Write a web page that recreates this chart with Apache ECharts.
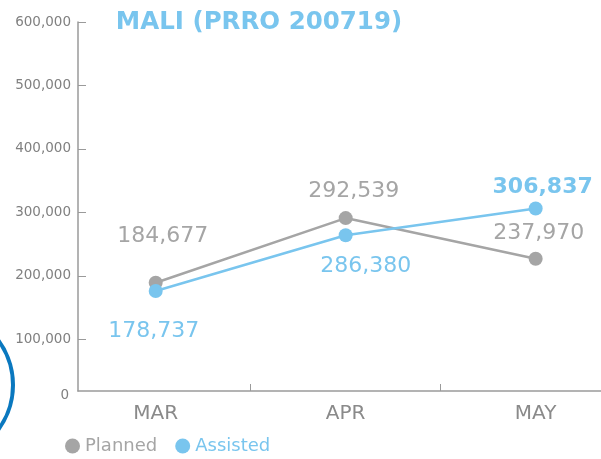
<!DOCTYPE html>
<html>
<head>
<meta charset="utf-8">
<script src="https://cdn.jsdelivr.net/npm/echarts@6/dist/echarts.min.js"></script>
<style>
  html, body { margin: 0; padding: 0; background: #fff; }
  #chart { width: 601px; height: 459px; }
</style>
</head>
<body>
<div id="chart"></div>
<script>
const months = ['MAR', 'APR', 'MAY'];
const yTicks = [100000, 200000, 300000, 400000, 500000, 600000];
// where the markers sit in the picture
const planned = [189000, 291000, 227000];
const assisted = [176000, 264000, 306000];
// figures printed next to the markers
const plannedTotals = [184677, 292539, 237970];
const assistedTotals = [178737, 286380, 306837];

const GRAY = '#a5a5a5';
const BLUE = '#79c5ee';
const AXIS = '#9a9a9a';
const FONT = 'DejaVu Sans';

const plannedOffsets = [[7, -47], [8, -27], [3, -25]];
const assistedOffsets = [[-2, 40], [20, 31], [7, -21]];

function fmt(v) {
    return v.toLocaleString('en-US');
}

function buildSeriesData(values, totals, offsets, color, boldIdx) {
    return values.map((v, i) => ({
        value: [i, v],
        label: {
            show: true,
            position: 'inside',
            offset: offsets[i],
            formatter: fmt(totals[i]),
            color: color,
            fontFamily: FONT,
            fontSize: 22,
            fontWeight: i === boldIdx ? 'bold' : 'normal'
        }
    }));
}

const chart = echarts.init(document.getElementById('chart'));

chart.setOption({
    animation: false,
    title: {
        text: 'MALI (PRRO 200719)',
        left: 254,
        top: 5,
        textAlign: 'center',
        textStyle: { color: BLUE, fontFamily: FONT, fontSize: 24.5, fontWeight: 'bold' }
    },
    legend: {
        left: 60,
        top: 432,
        icon: 'circle',
        itemWidth: 15,
        itemHeight: 15,
        itemGap: 18,
        textStyle: { fontFamily: FONT, fontSize: 18 },
        data: [
            { name: 'Planned', textStyle: { color: GRAY } },
            { name: 'Assisted', textStyle: { color: BLUE } }
        ]
    },
    grid: { left: 78, right: 0, top: 22, bottom: 68 },
    xAxis: {
        type: 'value',
        min: -0.409,
        max: 2.344,
        splitLine: { show: false },
        axisLine: { show: true, onZero: false, lineStyle: { color: AXIS, width: 1.5 } },
        axisTick: { show: true, inside: true, length: 7, customValues: [0.5, 1.5], lineStyle: { color: AXIS } },
        axisLabel: {
            customValues: [0, 1, 2],
            formatter: (v) => months[Math.round(v)],
            color: '#8a8a8a',
            fontFamily: FONT,
            fontSize: 20,
            margin: 13
        }
    },
    yAxis: {
        type: 'value',
        min: 18500,
        max: 600000,
        splitLine: { show: false },
        axisLine: { show: true, onZero: false, lineStyle: { color: AXIS, width: 1.5 } },
        axisTick: { show: true, inside: true, length: 8, customValues: yTicks, lineStyle: { color: AXIS } },
        axisLabel: {
            customValues: yTicks,
            formatter: (v) => fmt(v),
            color: '#808080',
            fontFamily: FONT,
            fontSize: 13.5,
            margin: 7
        }
    },
    graphic: [
        {
            type: 'text',
            right: 601 - 69,
            top: 388,
            style: { text: '0', fill: '#808080', font: '13.5px "DejaVu Sans"' }
        },
        {
            type: 'circle',
            shape: { cx: -62, cy: 385, r: 75 },
            style: { fill: 'none', stroke: '#0a78bf', lineWidth: 4 }
        }
    ],
    series: [
        {
            name: 'Planned',
            type: 'line',
            color: GRAY,
            symbol: 'circle',
            symbolSize: 14,
            lineStyle: { width: 2.5, color: GRAY },
            itemStyle: { color: GRAY },
            data: buildSeriesData(planned, plannedTotals, plannedOffsets, GRAY, -1)
        },
        {
            name: 'Assisted',
            type: 'line',
            color: BLUE,
            symbol: 'circle',
            symbolSize: 14,
            lineStyle: { width: 2.5, color: BLUE },
            itemStyle: { color: BLUE },
            data: buildSeriesData(assisted, assistedTotals, assistedOffsets, BLUE, 2)
        }
    ]
});
</script>
</body>
</html>
